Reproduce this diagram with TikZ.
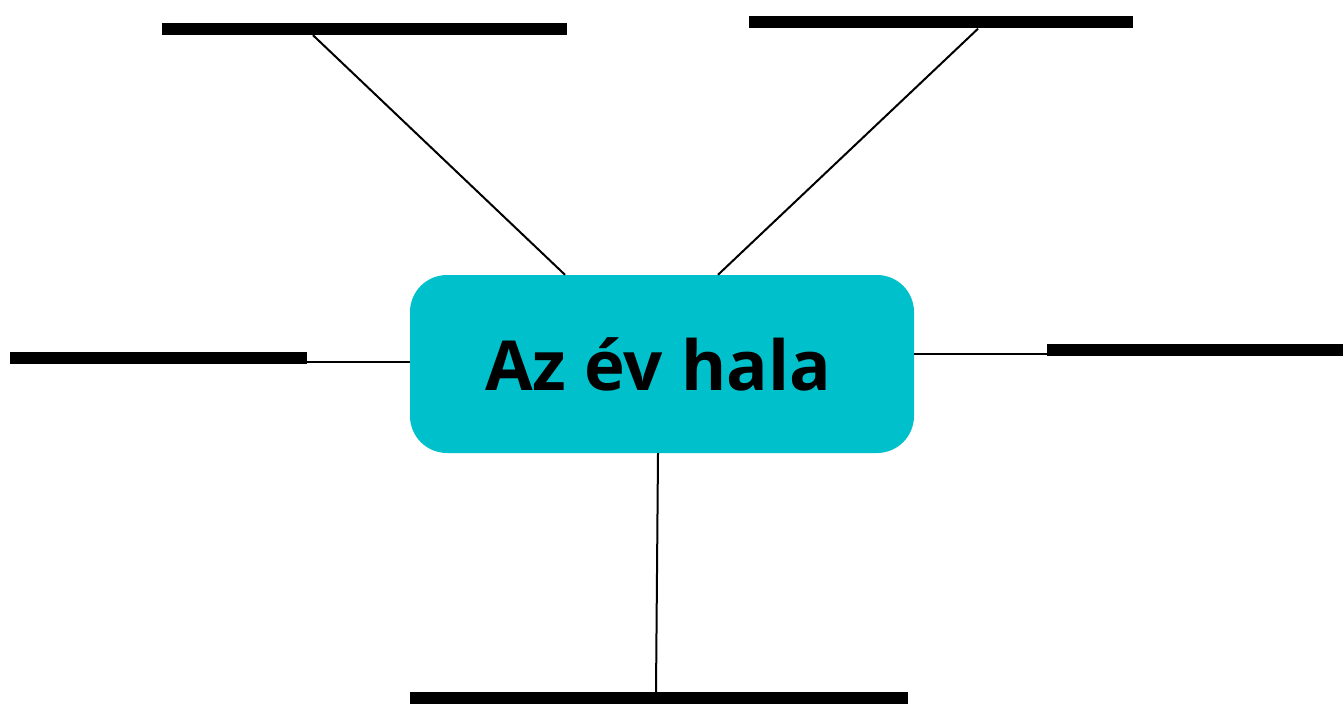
\documentclass[tikz,border=0pt]{standalone}
\usepackage{fontspec}
\setmainfont{Open Sans}
\definecolor{teal1}{RGB}{0,193,203}
\begin{document}
\begin{tikzpicture}[x=1pt,y=-1pt,
  bar/.style={fill=black,inner sep=0pt,minimum height=12pt},
  conn/.style={line width=2pt,black}]
\useasboundingbox[fill=white] (0,0) rectangle (1343,709);
\node[fill=teal1,rounded corners=37pt,minimum width=504pt,minimum height=178pt,inner sep=0pt,
  font=\bfseries\fontsize{69}{80}\selectfont] (box) at (662,364) {Az év hala\kern8pt};
\node[bar,minimum width=405pt] (tl) at (364.5,29) {};
\node[bar,minimum width=384pt] (tr) at (941,22.5) {};
\node[bar,minimum width=297pt] (l) at (158.5,358) {};
\node[bar,minimum width=296pt] (r) at (1195,350) {};
\node[bar,minimum width=498pt] (b) at (659,698) {};
\draw[conn] (tl.south -| 313,0) -- (box.north -| 565,0);
\draw[conn] (tr.south -| 978,0) -- (box.north -| 718,0);
\draw[conn] (l.east |- 0,362) -- (box.west |- 0,362);
\draw[conn] (r.west |- 0,354) -- (box.east |- 0,354);
\draw[conn] (box.south -| 658,0) -- (b.north -| 656,0);
\end{tikzpicture}
\end{document}
